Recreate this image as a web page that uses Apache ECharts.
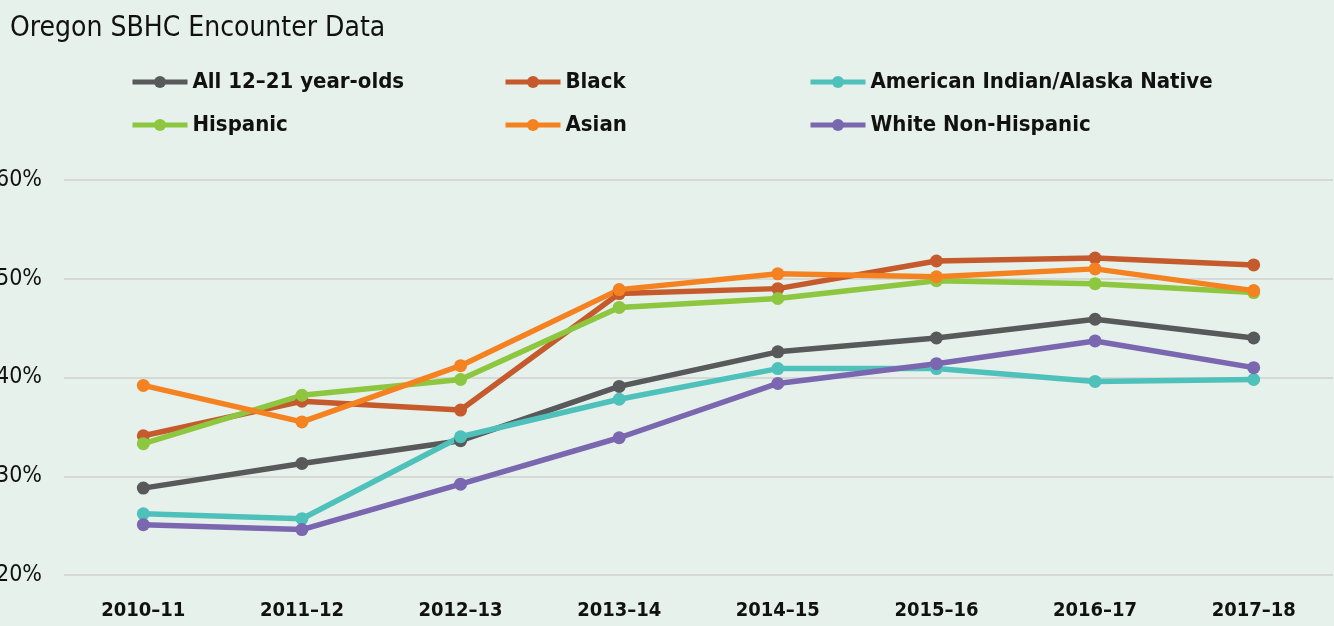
<!DOCTYPE html>
<html>
<head>
<meta charset="utf-8">
<script src="https://cdn.jsdelivr.net/npm/echarts@6/dist/echarts.min.js"></script>
<style>
  html, body { margin: 0; padding: 0; background: #e7f1eb; }
  #sbhcChart { width: 1334px; height: 626px; }
</style>
</head>
<body>
<div id="sbhcChart"></div>
<script>
var years = ['2010–11', '2011–12', '2012–13', '2013–14', '2014–15', '2015–16', '2016–17', '2017–18']
var allYouth = [28.8, 31.3, 33.6, 39.1, 42.6, 44.0, 45.9, 44.0]
var black = [34.1, 37.6, 36.7, 48.5, 49.0, 51.8, 52.1, 51.4]
var aian = [26.2, 25.7, 34.0, 37.8, 40.9, 40.9, 39.6, 39.8]
var hispanic = [33.3, 38.2, 39.8, 47.1, 48.0, 49.8, 49.5, 48.6]
var asian = [39.2, 35.5, 41.2, 48.9, 50.5, 50.2, 51.0, 48.8]
var white = [25.1, 24.6, 29.2, 33.9, 39.4, 41.4, 43.7, 41.0]
var yTicks = [20, 30, 40, 50, 60]

var font = '"Liberation Sans Narrow", "DejaVu Sans Condensed", sans-serif'

function line(name, data, color){
  return {
    name: name,
    type: 'line',
    data: data,
    symbol: 'circle',
    symbolSize: 13,
    lineStyle: { width: 5.5, color: color },
    itemStyle: { color: color },
    emphasis: { disabled: true }
  }
}

function legendCol(left, names){
  return {
    orient: 'vertical',
    left: left,
    top: 71,
    padding: 0,
    itemWidth: 55,
    itemHeight: 15,
    itemGap: 21,
    data: names,
    selectedMode: false,
    lineStyle: { width: 5 },
    textStyle: { fontFamily: font, fontSize: 22, fontWeight: 'bold', color: '#111' }
  }
}

var myChart = echarts.init(document.getElementById('sbhcChart'))
var option = {
  backgroundColor: '#e7f1eb',
  animation: false,
  title: {
    text: 'Oregon SBHC Encounter Data',
    left: 5,
    top: 10,
    textStyle: { fontFamily: font, fontSize: 28, fontWeight: 'normal', color: '#111' }
  },
  legend: [
    legendCol(130, ['All 12–21 year-olds', 'Hispanic']),
    legendCol(503, ['Black', 'Asian']),
    legendCol(808, ['American Indian/Alaska Native', 'White Non-Hispanic'])
  ],
  grid: { left: 64, right: 1, top: 180, bottom: 51, outerBoundsMode: 'none' },
  xAxis: {
    type: 'category',
    data: years,
    axisLine: { show: false },
    axisTick: { show: false },
    axisLabel: { margin: 26, fontFamily: font, fontSize: 20, fontWeight: 'bold', color: '#111' }
  },
  yAxis: {
    type: 'value',
    min: yTicks[0],
    max: yTicks[yTicks.length - 1],
    interval: 10,
    axisLine: { show: false },
    axisTick: { show: false },
    splitLine: { lineStyle: { color: '#d6d8d6', width: 2 } },
    axisLabel: {
      margin: 22,
      fontFamily: font,
      fontSize: 23,
      color: '#111',
      formatter: function(v){ return v + '%' }
    }
  },
  series: [
    line('All 12–21 year-olds', allYouth, '#58595b'),
    line('Black', black, '#c55a2c'),
    line('American Indian/Alaska Native', aian, '#4fc1bb'),
    line('Hispanic', hispanic, '#8dc63f'),
    line('Asian', asian, '#f58220'),
    line('White Non-Hispanic', white, '#7a67b0')
  ]
}
myChart.setOption(option)
</script>
</body>
</html>
